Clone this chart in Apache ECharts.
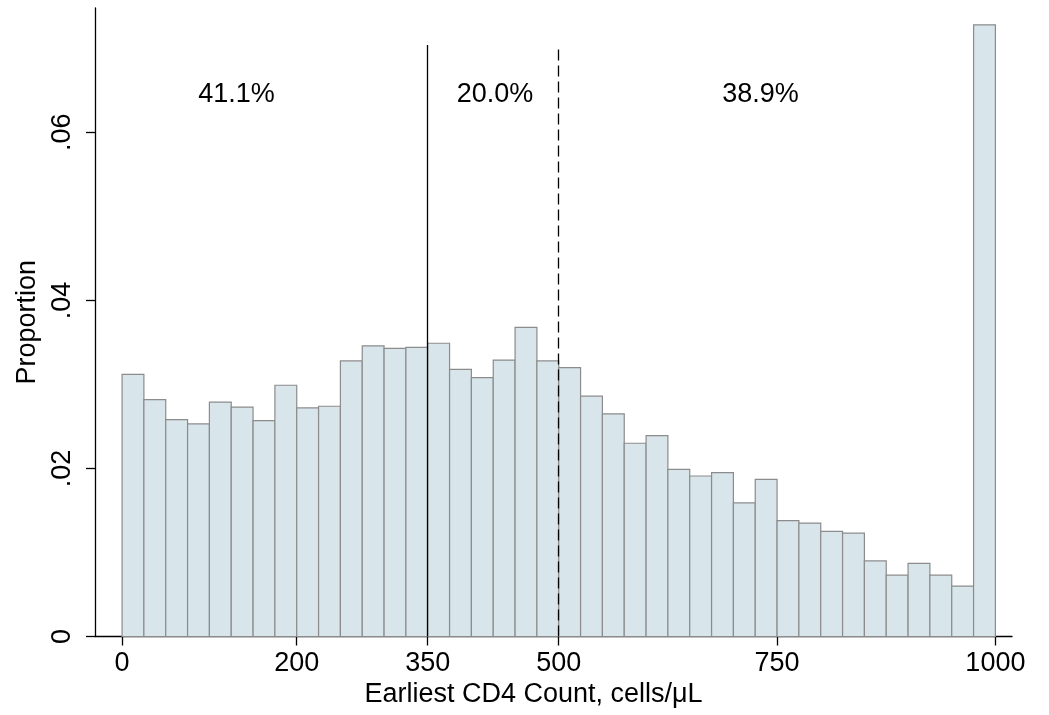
<!DOCTYPE html>
<html>
<head>
<meta charset="utf-8">
<script src="https://cdn.jsdelivr.net/npm/echarts@6/dist/echarts.min.js"></script>
<style>
  html, body { margin: 0; padding: 0; background: #fff; }
</style>
</head>
<body>
<div id="main" style="width: 1049px;height:715px;"></div>
<script>
// histogram bins (width 25), proportion per bin
var binStarts = [0, 25, 50, 75, 100, 125, 150, 175, 200, 225,
                 250, 275, 300, 325, 350, 375, 400, 425, 450, 475,
                 500, 525, 550, 575, 600, 625, 650, 675, 700, 725,
                 750, 775, 800, 825, 850, 875, 900, 925, 950, 975];
var binWidth = 25;
var proportions = [0.0312, 0.0282, 0.0258, 0.0253, 0.0279, 0.0273, 0.0257, 0.0299, 0.0272, 0.0274,
                   0.0328, 0.0346, 0.0343, 0.0344, 0.0349, 0.0318, 0.0308, 0.0329, 0.0368, 0.0328,
                   0.0320, 0.0286, 0.0265, 0.0230, 0.0239, 0.0199, 0.0191, 0.0195, 0.0159, 0.0187,
                   0.0138, 0.0135, 0.0125, 0.0123, 0.0090, 0.0073, 0.0087, 0.0073, 0.0060, 0.0728];

var xTicks = [0, 200, 350, 500, 750, 1000];
var yTicks = [0, 0.02, 0.04, 0.06];

// cut-points and shares of each group
var cutSolid = 350;
var cutDashed = 500;
var cutTop = 0.0704;
var shareLabels = ['41.1%', '20.0%', '38.9%'];
var shareX = [131, 427, 731];
var shareY = 0.0645;

var FONT = '"Liberation Sans", Arial, Helvetica, sans-serif';

var myChart = echarts.init(document.getElementById('main'));

var barData = binStarts.map(function (s, i) { return [s, s + binWidth, proportions[i]]; });
var textData = shareLabels.map(function (t, i) { return [shareX[i], shareY, t]; });

var option = {
  animation: false,
  grid: { left: 95, right: 37, top: 8, bottom: 78.5, containLabel: false, outerBoundsMode: 'none' },
  xAxis: {
    type: 'value',
    min: -31,
    max: 1019,
    name: 'Earliest CD4 Count, cells/\u03bcL',
    nameLocation: 'middle',
    nameGap: 45,
    nameMoveOverlap: false,
    nameTextStyle: { fontFamily: FONT, fontSize: 27, color: '#000', padding: [0, 40, 0, 0] },
    splitLine: { show: false },
    axisLine: { show: true, onZero: false, lineStyle: { color: '#000', width: 1.3 } },
    axisTick: { show: true, length: 9, lineStyle: { color: '#000', width: 1.3 }, customValues: xTicks },
    axisLabel: {
      fontFamily: FONT, fontSize: 27, color: '#000', margin: 14,
      customValues: xTicks,
      formatter: function (v) { return String(v); }
    }
  },
  yAxis: {
    type: 'value',
    min: 0,
    max: 0.0748,
    name: 'Proportion',
    nameLocation: 'middle',
    nameGap: 54,
    nameMoveOverlap: false,
    nameTextStyle: { fontFamily: FONT, fontSize: 27, color: '#000' },
    splitLine: { show: false },
    axisLine: { show: true, onZero: false, lineStyle: { color: '#000', width: 1.3 } },
    axisTick: { show: true, length: 9, lineStyle: { color: '#000', width: 1.3 }, customValues: yTicks },
    axisLabel: {
      fontFamily: FONT, fontSize: 27, color: '#000', margin: 19, rotate: 90,
      customValues: yTicks,
      formatter: function (v) {
        if (v === 0) return '0';
        return String(v).replace(/^0/, '');
      }
    }
  },
  series: [
    {
      type: 'custom',
      name: 'hist',
      data: barData,
      encode: { x: [0, 1], y: 2 },
      renderItem: function (params, api) {
        var p0 = api.coord([api.value(0), api.value(2)]);
        var p1 = api.coord([api.value(1), 0]);
        return {
          type: 'rect',
          shape: { x: p0[0], y: p0[1], width: p1[0] - p0[0], height: p1[1] - p0[1] },
          style: { fill: '#d8e5ea', stroke: '#8c8c8c', lineWidth: 1.2 }
        };
      },
      markLine: {
        silent: true,
        symbol: 'none',
        label: { show: false },
        data: [
          [{ coord: [cutSolid, 0], lineStyle: { type: 'solid', color: '#000', width: 1.3 } }, { coord: [cutSolid, cutTop] }],
          [{ coord: [cutDashed, 0], lineStyle: { type: [11, 5], color: '#000', width: 1.3 } }, { coord: [cutDashed, cutTop] }]
        ]
      },
      z: 2
    },
    {
      type: 'custom',
      name: 'shares',
      data: textData,
      encode: { x: 0, y: 1 },
      renderItem: function (params, api) {
        var p = api.coord([api.value(0), api.value(1)]);
        return {
          type: 'text',
          x: p[0], y: p[1],
          style: {
            text: textData[params.dataIndex][2],
            fontFamily: FONT, fontSize: 27, fill: '#000',
            align: 'center', verticalAlign: 'middle'
          }
        };
      },
      z: 5
    }
  ]
};

myChart.setOption(option);
</script>
</body>
</html>
